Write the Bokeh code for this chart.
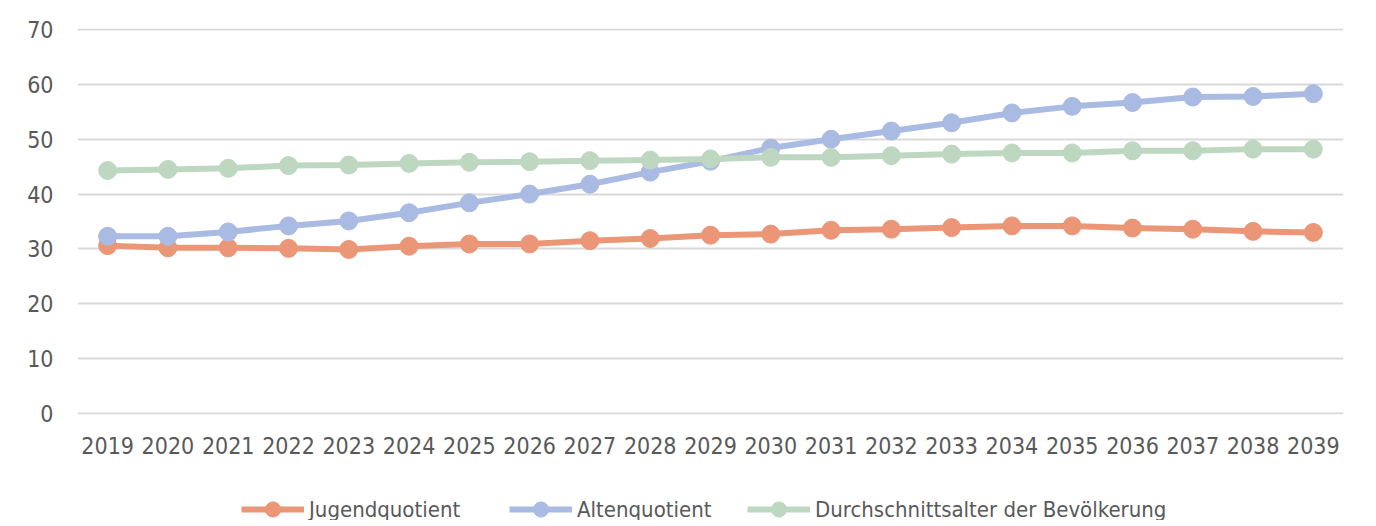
from bokeh.plotting import figure
from bokeh.models import Legend, LegendItem, FixedTicker, Range1d
from bokeh.layouts import column
from bokeh.embed import file_html
from bokeh.resources import INLINE

years = list(range(2019, 2040))
jugendquotient = [30.6, 30.2, 30.2, 30.1, 29.9, 30.5, 30.9, 30.9, 31.5, 31.9, 32.5,
                  32.7, 33.4, 33.6, 33.9, 34.2, 34.2, 33.8, 33.6, 33.2, 33.0]
altenquotient = [32.3, 32.3, 33.1, 34.2, 35.1, 36.6, 38.4, 40.0, 41.8, 44.0, 46.0,
                 48.4, 50.0, 51.5, 53.0, 54.8, 56.0, 56.7, 57.7, 57.8, 58.3]
durchschnittsalter = [44.3, 44.5, 44.7, 45.2, 45.3, 45.6, 45.8, 45.9, 46.1, 46.2, 46.4,
                      46.7, 46.7, 47.0, 47.3, 47.5, 47.5, 47.9, 47.9, 48.2, 48.2]
labels = ["Jugendquotient", "Altenquotient", "Durchschnittsalter der Bevölkerung"]
y_ticks = [0, 10, 20, 30, 40, 50, 60, 70]

FONT = "'DejaVu Sans Condensed', 'Liberation Sans Narrow', sans-serif"
TEXT = "#595959"
colors = ["#EB9677", "#A9BBE2", "#BED7C1"]
series = [jugendquotient, altenquotient, durchschnittsalter]

# ---- main chart ----
p = figure(width=1360, height=466, output_backend="svg", toolbar_location=None,
           x_range=Range1d(2018.5, 2039.5), y_range=Range1d(-0.2, 70.2),
           min_border_left=77, min_border_right=17, min_border_top=28,
           min_border_bottom=52)
p.outline_line_color = None
p.xgrid.grid_line_color = None
p.ygrid.grid_line_color = "#D9D9D9"
p.ygrid.grid_line_width = 2
p.ygrid.ticker = FixedTicker(ticks=y_ticks)
p.yaxis.ticker = FixedTicker(ticks=y_ticks)
p.xaxis.ticker = FixedTicker(ticks=years)
for ax in (p.xaxis, p.yaxis):
    ax.axis_line_color = None
    ax.major_tick_line_color = None
    ax.minor_tick_line_color = None
    ax.major_tick_out = 0
    ax.major_tick_in = 0
    ax.major_label_text_font = FONT
    ax.major_label_text_font_size = "23px"
    ax.major_label_text_color = TEXT
p.yaxis.major_label_standoff = 24
p.xaxis.major_label_standoff = 22

for vals, col in zip(series, colors):
    p.line(years, vals, line_color=col, line_width=6)
    p.scatter(years, vals, size=18, fill_color=col, line_color=col)

# ---- legend strip ----
q = figure(width=1360, height=54, output_backend="svg", toolbar_location=None,
           x_range=Range1d(0, 1), y_range=Range1d(0, 1),
           min_border_left=0, min_border_right=0, min_border_top=0, min_border_bottom=0)
q.outline_line_color = None
q.xaxis.visible = False
q.yaxis.visible = False
q.grid.grid_line_color = None

legend_x = [164, 432, 670]
for vals, col, lab, lx in zip(series, colors, labels, legend_x):
    l = q.line(years, vals, line_color=col, line_width=6)
    s = q.scatter(years, vals, size=18, fill_color=col, line_color=col)
    lg = Legend(items=[LegendItem(label=lab, renderers=[l, s])], location=(lx, -8),
                glyph_width=63, glyph_height=38, label_standoff=5,
                padding=0, margin=0, border_line_color=None, background_fill_alpha=0,
                label_text_font=FONT, label_text_font_size="22px",
                label_text_color=TEXT)
    q.add_layout(lg, "center")

layout = column(p, q, spacing=0)
open("out.html", "w").write(file_html(layout, INLINE))
